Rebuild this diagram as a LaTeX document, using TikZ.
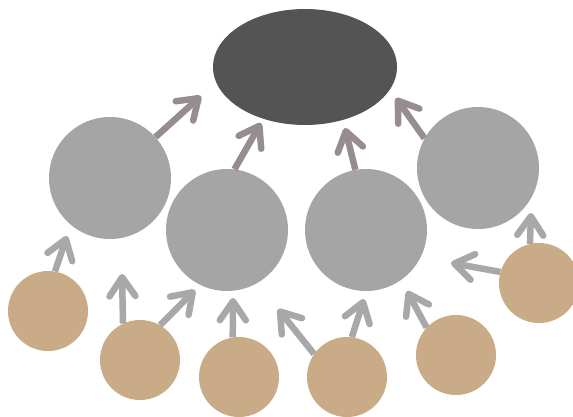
\documentclass[tikz,border=0pt]{standalone}
\usetikzlibrary{shapes.geometric,arrows.meta}
\definecolor{darkc}{HTML}{545454}
\definecolor{grayc}{HTML}{A5A5A5}
\definecolor{tanc}{HTML}{C9AB88}
\definecolor{uparr}{HTML}{978D8E}
\definecolor{lowarr}{HTML}{A8A8A8}
\tikzset{
  topnode/.style={ellipse, fill=darkc, minimum width=184pt, minimum height=116pt, inner sep=0pt},
  midnode/.style={circle, fill=grayc, minimum size=122pt, inner sep=0pt},
  leafnode/.style={circle, fill=tanc, minimum size=80pt, inner sep=0pt},
  arrbase/.style={line width=6.5pt, -{Straight Barb[length=19pt,width=26pt,round]}},
  uparrow/.style={arrbase, draw=uparr},
  lowarrow/.style={arrbase, draw=lowarr}
}
\begin{document}
\begin{tikzpicture}[x=1pt,y=-1pt]
\useasboundingbox (0,0) rectangle (573,416);
% nodes
\node[topnode] (top) at (305,67) {};
\node[midnode] (m1) at (110,178) {};
\node[midnode] (m2) at (227,230) {};
\node[midnode] (m3) at (366,230) {};
\node[midnode] (m4) at (478,168) {};
\node[leafnode] (t1) at (48,311) {};
\node[leafnode] (t2) at (140,360) {};
\node[leafnode] (t3) at (239,377) {};
\node[leafnode] (t4) at (347,377) {};
\node[leafnode] (t5) at (456,355) {};
\node[leafnode] (t6) at (539,283) {};
% arrow tips
\coordinate (a1) at (201,96);
\coordinate (a2) at (261,123);
\coordinate (a3) at (345,128);
\coordinate (a4) at (396,98);
\coordinate (b1) at (67,236);
\coordinate (b2) at (122,274);
\coordinate (b3) at (195,290);
\coordinate (b4) at (233,298);
\coordinate (b5) at (278,309);
\coordinate (b6) at (364,299);
\coordinate (b7) at (407,291);
\coordinate (b8) at (451,263);
\coordinate (b9) at (531,213);
% connectors
\draw[uparrow] (m1.42) -- (a1);
\draw[uparrow] (m2.83) -- (a2);
\draw[uparrow] (m3.100) -- (a3);
\draw[uparrow] (m4.151) -- (a4);
\draw[lowarrow] (t1.80) -- (b1);
\draw[lowarrow] (t2.115) -- (b2);
\draw[lowarrow] (t2.60) -- (b3);
\draw[lowarrow] (t3.99) -- (b4);
\draw[lowarrow] (t4.145) -- (b5);
\draw[lowarrow] (t4.83) -- (b6);
\draw[lowarrow] (t5.137) -- (b7);
\draw[lowarrow] (t6.164) -- (b8);
\draw[lowarrow] (t6.103) -- (b9);
\end{tikzpicture}
\end{document}
